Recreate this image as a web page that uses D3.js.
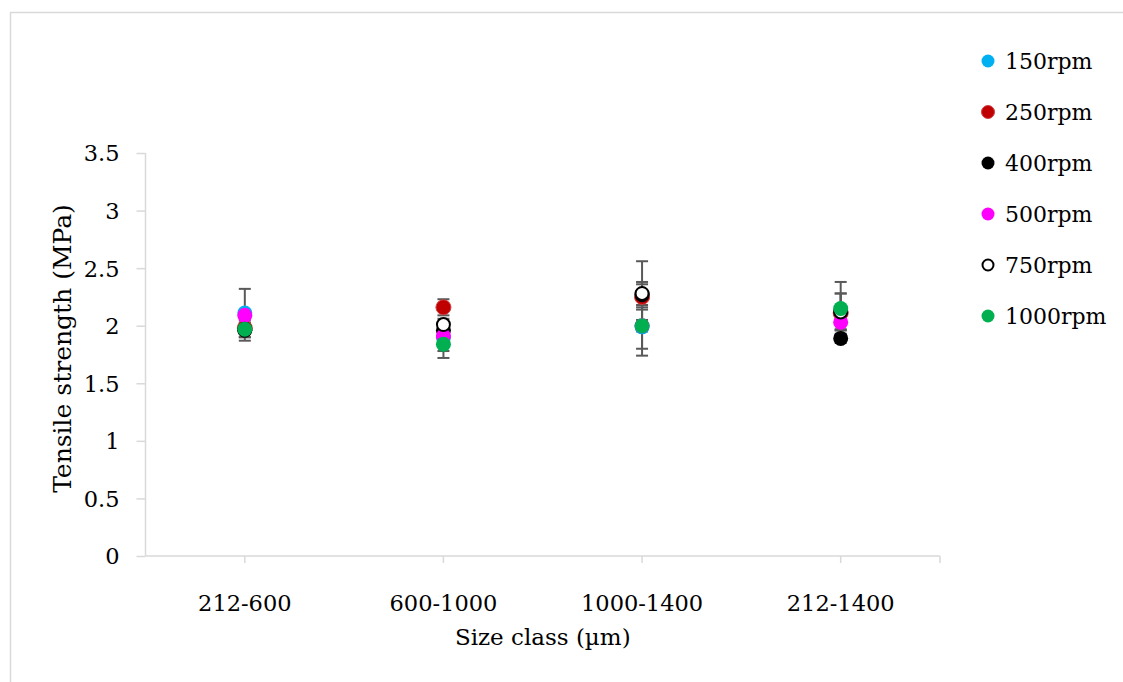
<!DOCTYPE html>
<html>
<head>
<meta charset="utf-8">
<script src="https://cdn.jsdelivr.net/npm/d3@7"></script>
<style>
  html, body { margin: 0; padding: 0; background: #fff; }
  svg { display: block; }
  text { font-family: "DejaVu Serif", "Liberation Serif", serif; fill: #000; }
</style>
</head>
<body>
<div id="chart"></div>
<script>
// ---- data ----
const categories = ["212-600", "600-1000", "1000-1400", "212-1400"];
const seriesNames = ["150rpm", "250rpm", "400rpm", "500rpm", "750rpm", "1000rpm"];
const rpm150  = [2.11, 1.90, 1.99, 2.12];
const err150  = [0.21, 0.12, 0.19, 0.16];
const rpm250  = [1.98, 2.16, 2.25, 2.11];
const err250  = [0.05, 0.07, 0.11, 0.05];
const rpm400  = [1.96, 1.96, 2.27, 1.89];
const err400  = [0.06, 0.05, 0.11, 0.04];
const rpm500  = [2.09, 1.91, 2.00, 2.03];
const err500  = [0.04, 0.05, 0.05, 0.06];
const rpm750  = [1.97, 2.01, 2.28, 2.12];
const err750  = [0.04, 0.05, 0.28, 0.16];
const rpm1000 = [1.97, 1.84, 2.00, 2.15];
const err1000 = [0.10, 0.12, 0.26, 0.23];
const yTicks = [0, 0.5, 1, 1.5, 2, 2.5, 3, 3.5];
const yTitle = "Tensile strength (MPa)";
const xTitle = "Size class (\u00b5m)";

const seriesValues = [rpm150, rpm250, rpm400, rpm500, rpm750, rpm1000];
const seriesErrors = [err150, err250, err400, err500, err750, err1000];

// ---- styles ----
const fills   = ["#00b0f0", "#c00000", "#000000", "#ff00ff", "#ffffff", "#00b050"];
const strokes = ["#00b0f0", "#d04040", "#000000", "#ff00ff", "#000000", "#00b050"];
const strokeW = [0, 1, 0, 0, 2, 0];

const W = 1123, H = 682;
const svg = d3.select("#chart").append("svg").attr("width", W).attr("height", H);

// outer frame
svg.append("rect").attr("x", 10.5).attr("y", 12.5).attr("width", 1300).attr("height", 900)
  .attr("fill", "none").attr("stroke", "#d9d9d9").attr("stroke-width", 1.5);

const pLeft = 145.5, pRight = 940, pTop = 153, pBottom = 556;
const x = d3.scaleBand().domain(categories).range([pLeft, pRight]).padding(0);
const y = d3.scaleLinear().domain([0, 3.5]).range([pBottom, pTop]);
const cx = c => x(c) + x.bandwidth() / 2;

const fsTick = 22.5, fsLegend = 22, fsXTitle = 23, fsYTitle = 25;

// y axis
const yAxis = svg.append("g").attr("transform", `translate(${pLeft},0)`)
  .call(d3.axisLeft(y).tickValues(yTicks).tickFormat(d3.format("")).tickSize(9).tickPadding(17));
yAxis.select(".domain").attr("stroke", "#d9d9d9").attr("stroke-width", 1.5).attr("d", `M0,${pBottom}V${pTop}`);
yAxis.selectAll(".tick line").attr("stroke", "#d9d9d9").attr("stroke-width", 1.5);
yAxis.selectAll(".tick text").style("font-size", fsTick + "px").attr("font-family", null).attr("dy", "0.35em");

// x axis
const xAxis = svg.append("g").attr("transform", `translate(0,${pBottom})`)
  .call(d3.axisBottom(x).tickSize(7).tickPadding(32));
xAxis.select(".domain").attr("stroke", "#d9d9d9").attr("stroke-width", 1.5).attr("d", `M${pLeft},0H${pRight}`);
xAxis.selectAll(".tick line").attr("stroke", "#d9d9d9").attr("stroke-width", 1.5);
xAxis.selectAll(".tick text").style("font-size", fsTick + "px").attr("font-family", null);
// right end tick
xAxis.append("line").attr("x1", pRight).attr("x2", pRight).attr("y1", 0).attr("y2", 7)
  .attr("stroke", "#d9d9d9").attr("stroke-width", 1.5);

// titles
svg.append("text").attr("x", (pLeft + pRight) / 2).attr("y", 645).attr("text-anchor", "middle")
  .style("font-size", fsXTitle + "px").text(xTitle);
svg.append("text").attr("transform", `translate(71,${(pTop + pBottom) / 2 - 6}) rotate(-90)`)
  .attr("text-anchor", "middle").style("font-size", fsYTitle + "px").text(yTitle);

// error bars
const eg = svg.append("g");
seriesValues.forEach((vals, s) => {
  vals.forEach((v, i) => {
    const e = seriesErrors[s][i];
    const px = cx(categories[i]);
    const y1 = y(v + e), y2 = y(v - e);
    eg.append("line").attr("x1", px).attr("x2", px).attr("y1", y1).attr("y2", y2)
      .attr("stroke", "#595959").attr("stroke-width", 2);
    [y1, y2].forEach(yy => eg.append("line").attr("x1", px - 6).attr("x2", px + 6)
      .attr("y1", yy).attr("y2", yy).attr("stroke", "#595959").attr("stroke-width", 2));
  });
});

// markers
const mg = svg.append("g");
seriesValues.forEach((vals, s) => {
  mg.selectAll(null).data(vals).enter().append("circle")
    .attr("cx", (d, i) => cx(categories[i]))
    .attr("cy", d => y(d))
    .attr("r", strokeW[s] === 2 ? 6.5 : 7.5)
    .attr("fill", fills[s])
    .attr("stroke", strokes[s])
    .attr("stroke-width", strokeW[s]);
});

// legend
const lg = svg.append("g");
seriesNames.forEach((name, s) => {
  const ly = 61 + s * 51;
  lg.append("circle").attr("cx", 988).attr("cy", ly).attr("r", strokeW[s] === 2 ? 5.5 : 6.5)
    .attr("fill", fills[s]).attr("stroke", strokes[s]).attr("stroke-width", strokeW[s]);
  lg.append("text").attr("x", 1005).attr("y", ly).attr("dy", "0.35em")
    .style("font-size", fsLegend + "px").text(name);
});
</script>
</body>
</html>
